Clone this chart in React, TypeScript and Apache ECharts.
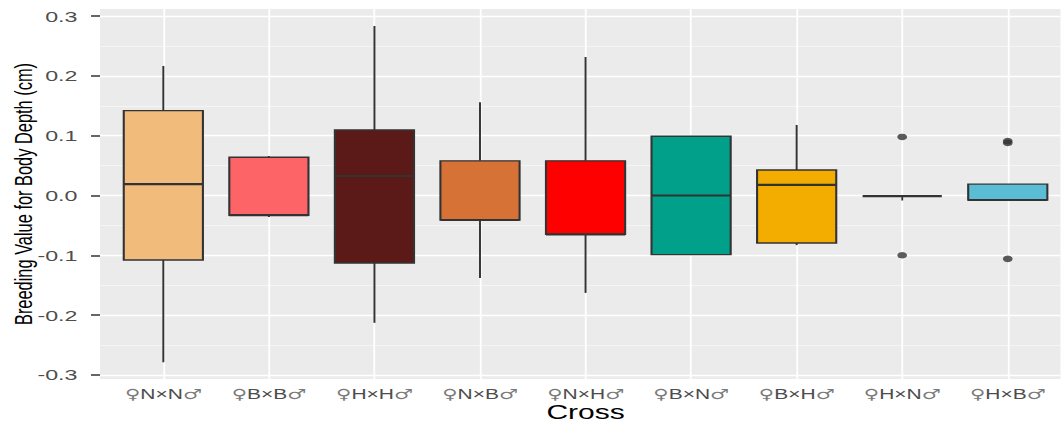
import React, { useEffect, useRef } from 'react';
import * as echarts from 'echarts';

// ---- data ----
const femaleSign = '♀';
const maleSign = '♂';
const crossCodes = ['N×N', 'B×B', 'H×H', 'N×B', 'N×H', 'B×N', 'B×H', 'H×N', 'H×B'];
const crosses = crossCodes.map((c) => femaleSign + c + maleSign);
const whiskerLow = [-0.279, -0.036, -0.213, -0.138, -0.163, -0.099, -0.083, -0.001, -0.0075];
const q1 = [-0.108, -0.033, -0.113, -0.041, -0.065, -0.099, -0.0795, -0.001, -0.0075];
const median = [0.019, -0.033, 0.0326, -0.041, -0.065, 0.0, 0.0176, -0.001, -0.0075];
const q3 = [0.142, 0.064, 0.1096, 0.058, 0.058, 0.099, 0.0427, -0.001, 0.019];
const whiskerHigh = [0.2167, 0.066, 0.2836, 0.156, 0.2317, 0.099, 0.118, -0.001, 0.019];
const boxColors = ['#F1BB7B', '#FD6467', '#5B1A18', '#D67236', '#FF0000', '#00A08A', '#F2AD00', '#F98400', '#5BBCD6'];
const outlierCross = [8, 8, 9, 9, 9];
const outlierValue = [0.098, -0.1, 0.091, 0.088, -0.106];
const yTicks = [-0.3, -0.2, -0.1, 0, 0.1, 0.2, 0.3];
const yMinorTicks = [-0.25, -0.15, -0.05, 0.05, 0.15, 0.25];
const xPositions = crosses.map((_, i) => i + 1);

const STRETCH = 1.5;
const PAGE_W = 1061;
const WIDTH = PAGE_W / STRETCH;
const HEIGHT = 423;
const FONT = 'Liberation Sans, Arial, Helvetica, sans-serif';

export default function App() {
  const ref = useRef<HTMLDivElement>(null);
  useEffect(() => {
    if (!ref.current) return;
    const chart = echarts.init(ref.current, null, { renderer: 'svg' });
    const boxData = crosses.map((_, i) => [i + 1, whiskerLow[i], q1[i], median[i], q3[i], whiskerHigh[i]]);
    const outliers = outlierCross.map((c, i) => [c, outlierValue[i]]);
    const renderItem = (params: any, api: any) => {
      const x = api.value(0);
      const lo = api.value(1), b1 = api.value(2), md = api.value(3), b3 = api.value(4), hi = api.value(5);
      const unit = api.size([1, 0])[0];
      const half = (unit * 0.75) / 2;
      const cx = api.coord([x, lo])[0];
      const yLo = api.coord([x, lo])[1];
      const yQ1 = api.coord([x, b1])[1];
      const yMd = api.coord([x, md])[1];
      const yQ3 = api.coord([x, b3])[1];
      const yHi = api.coord([x, hi])[1];
      const stroke = '#333333';
      const children: any[] = [];
      if (Math.abs(yHi - yQ3) > 0.5) {
        children.push({ type: 'line', shape: { x1: cx, y1: yQ3, x2: cx, y2: yHi }, style: { stroke, lineWidth: 1.3 } });
      }
      if (Math.abs(yLo - yQ1) > 0.5) {
        children.push({ type: 'line', shape: { x1: cx, y1: yQ1, x2: cx, y2: yLo }, style: { stroke, lineWidth: 1.3 } });
      }
      if (Math.abs(yQ1 - yQ3) > 0.5) {
        children.push({
          type: 'rect',
          shape: { x: cx - half, y: yQ3, width: half * 2, height: yQ1 - yQ3 },
          style: { fill: boxColors[params.dataIndex], stroke, lineWidth: 1.4 },
        });
      }
      children.push({
        type: 'line',
        shape: { x1: cx - half, y1: yMd, x2: cx + half, y2: yMd },
        style: { stroke, lineWidth: 2.2 },
      });
      return { type: 'group', children };
    };
    chart.setOption({
      animation: false,
      backgroundColor: '#ffffff',
      grid: {
        left: 100 / STRETCH,
        right: -(1071.6 - PAGE_W) / STRETCH,
        top: 9,
        bottom: 44,
        containLabel: false,
        outerBoundsMode: 'none',
        show: true,
        backgroundColor: '#EBEBEB',
        borderWidth: 0,
      },
      xAxis: {
        type: 'value',
        min: 0.4,
        max: 9.6,
        axisLine: { show: false },
        axisTick: { show: true, customValues: xPositions, length: 5, lineStyle: { color: '#333333', width: 1.2 } },
        axisLabel: {
          customValues: xPositions,
          formatter: (v: number) => {
            const c = crossCodes[Math.round(v) - 1];
            return c ? '{g|' + femaleSign + '}{t|' + c + '}{g|' + maleSign + '}' : '';
          },
          margin: 8,
          rich: {
            g: { fontFamily: 'DejaVu Sans', fontSize: 14, lineHeight: 14, color: '#7a7a7a' },
            t: { fontFamily: FONT, fontSize: 14, lineHeight: 14, color: '#4D4D4D' },
          },
        },
        splitLine: { show: true, lineStyle: { color: '#ffffff', width: 1.2 } },
        name: 'Cross',
        nameLocation: 'middle',
        nameGap: 24,
        nameMoveOverlap: false,
        nameTextStyle: { color: '#000000', fontSize: 20, lineHeight: 18, fontFamily: FONT },
      },
      yAxis: [
        {
          type: 'value',
          min: -0.307,
          max: 0.312,
          axisLine: { show: false },
          axisTick: { show: true, customValues: yTicks, length: 6, lineStyle: { color: '#333333', width: 1.5 } },
          axisLabel: {
            customValues: yTicks,
            formatter: (v: number) => v.toFixed(1),
            color: '#4D4D4D',
            fontSize: 15.5,
            margin: 15,
            fontFamily: FONT,
          },
          splitLine: { show: true, lineStyle: { color: '#ffffff', width: 1.3 } },
          name: 'Breeding Value for Body Depth (cm)',
          nameLocation: 'middle',
          nameGap: 43,
          nameMoveOverlap: false,
          nameTextStyle: { color: '#000000', fontSize: 16.4, lineHeight: 17, fontFamily: FONT },
        },
        {
          type: 'value',
          min: -0.307,
          max: 0.312,
          position: 'left',
          axisLine: { show: false },
          axisTick: { show: false, customValues: yMinorTicks },
          axisLabel: { show: false, customValues: yMinorTicks },
          splitLine: { show: true, lineStyle: { color: '#ffffff', width: 0.7 } },
        },
      ],
      series: [
        { type: 'custom', renderItem, data: boxData, xAxisIndex: 0, yAxisIndex: 0, z: 3 },
        {
          type: 'scatter',
          data: outliers,
          xAxisIndex: 0,
          yAxisIndex: 0,
          symbol: 'circle',
          symbolSize: 6.5,
          itemStyle: { color: '#333333' },
          z: 4,
        },
      ],
    });
    return () => chart.dispose();
  }, []);
  return (
    <div
      ref={ref}
      style={{
        position: 'fixed',
        left: 0,
        top: 0,
        width: WIDTH,
        height: HEIGHT,
        overflow: 'hidden',
        transform: `scaleX(${STRETCH})`,
        transformOrigin: '0 0',
      }}
    />
  );
}
